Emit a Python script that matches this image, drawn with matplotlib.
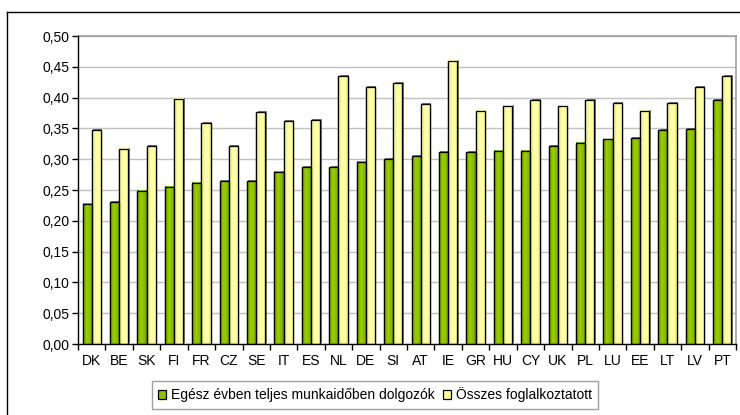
import numpy as np
import matplotlib
matplotlib.use("Agg")
import matplotlib.pyplot as plt
import matplotlib.patheffects as pe
from matplotlib.lines import Line2D
from matplotlib.colors import LinearSegmentedColormap
from matplotlib.ticker import FuncFormatter, MultipleLocator, FixedLocator

countries = ["DK", "BE", "SK", "FI", "FR", "CZ", "SE", "IT", "ES", "NL", "DE", "SI",
             "AT", "IE", "GR", "HU", "CY", "UK", "PL", "LU", "EE", "LT", "LV", "PT"]
full_year = [0.228, 0.230, 0.249, 0.255, 0.262, 0.264, 0.264, 0.280, 0.287, 0.287, 0.296, 0.300,
             0.305, 0.311, 0.311, 0.314, 0.314, 0.321, 0.327, 0.332, 0.334, 0.347, 0.349, 0.396]
all_employed = [0.347, 0.317, 0.321, 0.398, 0.358, 0.321, 0.376, 0.362, 0.363, 0.435, 0.417, 0.423,
                0.389, 0.460, 0.379, 0.387, 0.396, 0.387, 0.396, 0.391, 0.379, 0.391, 0.417, 0.435]
series_names = ["Egész évben teljes munkaidőben dolgozók", "Összes foglalkoztatott"]

plt.rcParams["font.family"] = ["Liberation Sans", "DejaVu Sans"]

W, H, DPI = 740, 415, 100
fig = plt.figure(figsize=(W / DPI, H / DPI), dpi=DPI)
fig.set_facecolor("white")

# outer chart frame (cut off at right and bottom)
x0 = 7 / W
y_top = 1 - 12 / H
fig.add_artist(Line2D([x0, 1.0], [y_top, y_top], transform=fig.transFigure, color="black", lw=1.0))
fig.add_artist(Line2D([x0, x0], [0.0, y_top], transform=fig.transFigure, color="black", lw=1.0))

ax = fig.add_axes([78 / W, 1 - 344 / H, (736 - 78) / W, (344 - 36) / H])

green_cm = LinearSegmentedColormap.from_list(
    "g", [(0, "#5E8A00"), (0.35, "#9ACD00"), (0.7, "#8CC000"), (1, "#6A9600")])
yellow_cm = LinearSegmentedColormap.from_list(
    "y", [(0, "#E6E68A"), (0.45, "#FFFFB0"), (0.8, "#FFFF99"), (1, "#DADA80")])
grad = np.linspace(0, 1, 64).reshape(1, -1)

x = np.arange(len(countries))
w = 0.335
shadow = [pe.SimplePatchShadow(offset=(1.0, 0.7), shadow_rgbFace="0.3", alpha=0.7), pe.Normal()]
b1 = ax.bar(x - w / 2, full_year, w, color="#8DC000", edgecolor="black", linewidth=0.9,
            label=series_names[0], zorder=3)
b2 = ax.bar(x + w / 2, all_employed, w, color="#FFFF99", edgecolor="black", linewidth=0.9,
            label=series_names[1], zorder=3)
for bars, cm in [(b1, green_cm), (b2, yellow_cm)]:
    for b in bars:
        b.set_path_effects(shadow)
        bx, by = b.get_x(), b.get_y()
        im = ax.imshow(grad, cmap=cm, aspect="auto", interpolation="bilinear",
                       extent=(bx, bx + b.get_width(), by, by + b.get_height()), zorder=3.5)
        # outline on top of the gradient
        ax.add_patch(plt.Rectangle((bx, by), b.get_width(), b.get_height(), fill=False,
                                   edgecolor="black", linewidth=0.9, zorder=3.6))

ax.set_xlim(-0.5, len(countries) - 0.5)
ax.set_ylim(0, 0.5)
ax.yaxis.set_major_locator(MultipleLocator(0.05))
ax.yaxis.set_major_formatter(FuncFormatter(lambda v, p: f"{v:.2f}".replace(".", ",")))
ax.grid(axis="y", color="#C0C0C0", lw=1.0, zorder=0)
ax.set_axisbelow(True)

# ticks at category boundaries, labels at centers
ax.xaxis.set_major_locator(FixedLocator(np.arange(len(countries) + 1) - 0.5))
ax.xaxis.set_major_formatter(FuncFormatter(lambda v, p: ""))
ax.xaxis.set_minor_locator(FixedLocator(x))
ax.set_xticklabels(countries, minor=True)
ax.tick_params(axis="x", which="major", direction="out", length=4, width=1, color="black")
ax.tick_params(axis="x", which="minor", length=0, labelsize=10, pad=7)
ax.tick_params(axis="y", direction="out", length=4, width=1, labelsize=10, pad=2)

for s in ["top", "right"]:
    ax.spines[s].set_color("#A0A0A0")
    ax.spines[s].set_linewidth(1.2)
for s in ["left", "bottom"]:
    ax.spines[s].set_color("black")
    ax.spines[s].set_linewidth(1.0)
    ax.spines[s].set_zorder(4)

leg = fig.legend(handles=[b1, b2], labels=series_names, loc="center", ncol=2,
                 bbox_to_anchor=(375 / W, 1 - 395 / H), fontsize=10, frameon=True,
                 fancybox=False, edgecolor="#A0A0A0", framealpha=1,
                 handlelength=0.6, handleheight=0.6, handletextpad=0.35, columnspacing=0.6,
                 borderpad=0.45)
leg.get_frame().set_linewidth(1.0)
for h in leg.legend_handles:
    h.set_path_effects([])

fig.savefig("out.png", dpi=DPI)
plt.close(fig)
